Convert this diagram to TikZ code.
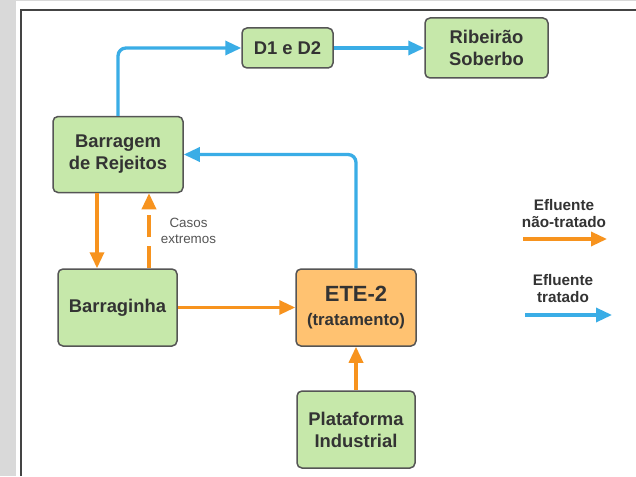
\documentclass[tikz,border=0pt]{standalone}
\usepackage{fontspec}
\setmainfont{Liberation Sans}
\usetikzlibrary{arrows.meta}
\definecolor{gband}{HTML}{D9D9D9}
\definecolor{frameC}{HTML}{444444}
\definecolor{greenF}{HTML}{C6E8AA}
\definecolor{orangeF}{HTML}{FFC271}
\definecolor{boxB}{HTML}{555555}
\definecolor{txt}{HTML}{333333}
\definecolor{blueA}{HTML}{3AADE6}
\definecolor{orangeA}{HTML}{F7931E}
\definecolor{grayT}{HTML}{555555}
\tikzset{
  box/.style={draw=boxB, line width=1.5pt, rounded corners=5pt, fill=greenF,
    text=txt, font=\bfseries\fontsize{18.4}{22}\selectfont, align=center,
    inner sep=0pt},
  obox/.style={box, fill=orangeF},
  tip/.style={-{Triangle[length=16pt,width=14pt]}},
  bluearrow/.style={tip, draw=blueA, line width=3.3pt, rounded corners=8pt},
  orangearrow/.style={tip, draw=orangeA, line width=3.3pt},
  legendtext/.style={text=txt, font=\bfseries\fontsize{15.3}{17}\selectfont, align=center, inner sep=0pt},
}
\begin{document}
\begin{tikzpicture}[x=1pt,y=-1pt]
\useasboundingbox (0,0) rectangle (636,476);
\fill[white] (0,0) rectangle (636,476);
\fill[gband] (0,0) rectangle (16,476);
\fill[gband] (0,0) rectangle (636,1.5);
\draw[frameC, line width=2pt] (21,476) -- (21,10) -- (636,10);

\node[box, minimum width=91pt, minimum height=40pt] (d1) at (287.5,48) {D1 e D2};
\node[box, minimum width=123pt, minimum height=60pt] (rib) at (486.5,48) {Ribeirão\\Soberbo};
\node[box, minimum width=130pt, minimum height=76pt] (bar) at (118,154.5) {Barragem\\de Rejeitos};
\node[box, minimum width=119pt, minimum height=77pt] (bgh) at (117.5,307.5) {Barraginha};
\node[obox, minimum width=120pt, minimum height=77pt] (ete) at (356,307.5) {{\fontsize{22}{24}\selectfont ETE-2}\\[2pt]{\fontsize{16.8}{20}\selectfont (tratamento)}};
\node[box, minimum width=118pt, minimum height=77pt] (plat) at (356,429.5) {Plataforma\\Industrial};

\draw[bluearrow] (bar.north) |- (d1.west);
\draw[bluearrow] (d1.east) -- (rib.west);
\draw[bluearrow] (ete.north) |- (bar.east);

\draw[orangearrow] ([xshift=-21pt]bar.south) -- ([xshift=-20.5pt]bgh.north);
\draw[orangearrow, dash pattern=on 22pt off 9pt] ([xshift=31.5pt]bgh.north) -- ([xshift=31pt]bar.south);
\draw[orangearrow] (bgh.east) -- (ete.west);
\draw[orangearrow] (plat.north) -- (ete.south);

\node[text=grayT, font=\fontsize{13.4}{16}\selectfont, align=center, inner sep=0pt] (casos) at (188.5,231) {Casos\\extremos};

\node[legendtext] (l1) at (564,213.5) {Efluente\\não-tratado};
\coordinate (l1a) at (523,239);
\coordinate (l1b) at (607,239);
\draw[orangearrow] (l1a) -- (l1b);
\node[legendtext] (l2) at (563,288.5) {Efluente\\tratado};
\coordinate (l2a) at (525,315);
\coordinate (l2b) at (612,315);
\draw[bluearrow] (l2a) -- (l2b);
\end{tikzpicture}
\end{document}
